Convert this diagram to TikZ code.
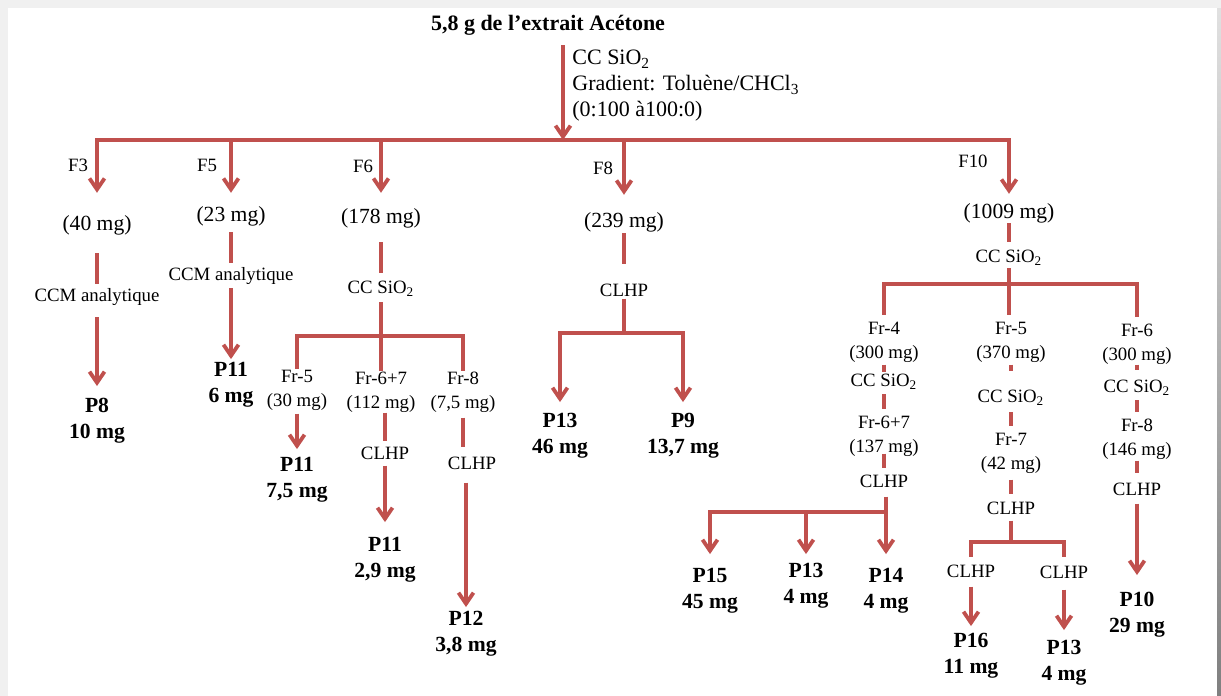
\documentclass[tikz,border=0pt]{standalone}
\usepackage{fontspec}
\setmainfont{Liberation Serif}
\usetikzlibrary{arrows.meta}
\definecolor{flow}{HTML}{C0504D}
\begin{document}
\begin{tikzpicture}[x=0.5pt,y=-0.5pt,
  ln/.style={draw=flow,line width=1.9pt},
  arr/.style={ln,-{Straight Barb[length=5.5pt,width=7.5pt]}},
  big/.style={inner sep=0pt,font=\fontsize{10.8}{13}\selectfont,align=center},
  sm/.style={inner sep=0pt,font=\fontsize{9.4}{12}\selectfont,align=center},
  prod/.style={inner sep=0pt,font=\fontsize{10.8}{13}\selectfont\bfseries,align=center},
]
\useasboundingbox (0,0) rectangle (1221,696);
% page frame
\fill[black!6] (0,0) rectangle (1221,696);
\fill[white] (8,8) rectangle (1217,696);
\shade[top color=black!12,bottom color=black!50] (1217,8) rectangle (1221,696);

% starting extract
\node[prod,font=\fontsize{11}{13}\selectfont\bfseries] (t) at (548,25) {5,8 g de l’extrait Acétone};
\node[anchor=west,align=left,inner sep=0pt,font=\fontsize{11}{13}\selectfont] (cc0) at (572,86)
  {CC SiO\textsubscript{2}\\Gradient: Toluène/CHCl\textsubscript{3}\\(0:100 à100:0)};

% fractions of the first column
\node[sm] (l3) at (78,165) {F3};
\node[sm] (l5) at (207,165) {F5};
\node[sm] (l6) at (363,166) {F6};
\node[sm] (l8) at (603,168) {F8};
\node[sm] (l10) at (973,161) {F10};
\node[big] (n40) at (97,225) {(40 mg)};
\node[big] (n23) at (231,216) {(23 mg)};
\node[big] (n178) at (381,218) {(178 mg)};
\node[big] (n239) at (624,222) {(239 mg)};
\node[big] (n1009) at (1009,213) {(1009 mg)};

% F3
\node[sm] (ccm3) at (97,297) {CCM analytique};
\node[prod] (p8) at (97,421) {P8\\10 mg};
% F5
\node[sm] (ccm5) at (231,276) {CCM analytique};
\node[prod] (p11a) at (231,385) {P11\\6 mg};
% F6
\node[sm] (cc6) at (381,289) {CC SiO\textsubscript{2}};
\node[sm] (fr5) at (297,390) {Fr-5\\(30 mg)};
\node[sm] (fr67) at (381,392) {Fr-6+7\\(112 mg)};
\node[sm] (fr8) at (463,392) {Fr-8\\(7,5 mg)};
\node[prod] (p11b) at (297,480) {P11\\7,5 mg};
\node[sm] (clhp67) at (385,453) {CLHP};
\node[prod] (p11c) at (385,560) {P11\\2,9 mg};
\node[sm] (clhp8b) at (472,463) {CLHP};
\node[prod] (p12) at (466,634) {P12\\3,8 mg};
% F8
\node[sm] (clhp8) at (624,290) {CLHP};
\node[prod] (p13a) at (560,436) {P13\\46 mg};
\node[prod] (p9) at (683,436) {P9\\13,7 mg};
% F10
\node[sm] (cc10) at (1009,258) {CC SiO\textsubscript{2}};
\node[sm] (fr4) at (884,342) {Fr-4\\(300 mg)};
\node[sm] (fr5b) at (1011,342) {Fr-5\\(370 mg)};
\node[sm] (fr6) at (1137,344) {Fr-6\\(300 mg)};
\node[sm] (cc4) at (884,382) {CC SiO\textsubscript{2}};
\node[sm] (cc5) at (1011,398) {CC SiO\textsubscript{2}};
\node[sm] (cc6b) at (1137,388) {CC SiO\textsubscript{2}};
\node[sm] (fr67b) at (884,436) {Fr-6+7\\(137 mg)};
\node[sm] (fr7) at (1011,453) {Fr-7\\(42 mg)};
\node[sm] (fr8b) at (1137,439) {Fr-8\\(146 mg)};
\node[sm] (clhp4) at (884,481) {CLHP};
\node[sm] (clhp5) at (1011,508) {CLHP};
\node[sm] (clhp6) at (1137,489) {CLHP};
\node[prod] (p15) at (710,591) {P15\\45 mg};
\node[prod] (p13b) at (806,586) {P13\\4 mg};
\node[prod] (p14) at (886,591) {P14\\4 mg};
\node[sm] (clhpl) at (971,571) {CLHP};
\node[sm] (clhpr) at (1064,572) {CLHP};
\node[prod] (p16) at (971,656) {P16\\11 mg};
\node[prod] (p13c) at (1064,663) {P13\\4 mg};
\node[prod] (p10) at (1137,615) {P10\\29 mg};

% first separation
\coordinate (bar) at (563,140);
\draw[arr,shorten <=5pt] (bar |- t.south) -- (bar);
\draw[arr,shorten >=11pt] (bar) -| (n40);
\draw[arr,shorten >=4.5pt] (bar) -| (n1009);
\draw[arr,shorten >=6.5pt] (n23 |- bar) -- (n23);
\draw[arr,shorten >=7.5pt] (n178 |- bar) -- (n178);
\draw[arr,shorten >=8.5pt] (n239 |- bar) -- (n239);

% F3 and F5
\draw[ln,shorten <=9pt,shorten >=2.25pt] (n40) -- (ccm3);
\draw[arr,shorten <=5.75pt,shorten >=6pt] (ccm3) -- (p8);
\draw[ln,shorten <=3pt,shorten >=2.25pt] (n23) -- (ccm5);
\draw[arr,shorten <=1.75pt,shorten >=1.5pt] (ccm5) -- (p11a);

% F6
\draw[ln,shorten <=7pt,shorten >=4.25pt] (n178) -- (cc6);
\coordinate (j6) at (381,336);
\draw[ln,shorten <=2.75pt] (cc6) -- (j6);
\draw[ln] (j6) -| (fr5);
\draw[ln] (j6) -- (fr67);
\draw[ln] (j6) -| (fr8);
\draw[arr,shorten <=1.5pt,shorten >=4pt] (fr5) -- (p11b);
\draw[ln,shorten >=2.5pt] (clhp67 |- fr67.south) -- (clhp67);
\draw[arr,shorten <=3pt,shorten >=7.5pt] (clhp67) -- (p11c);
\draw[ln,shorten <=2.5pt,shorten >=4.5pt] (fr8) -- (fr8 |- clhp8b.north);
\draw[arr,shorten <=6.5pt,shorten >=2pt] (p12 |- clhp8b.south) -- (p12);

% F8
\draw[ln,shorten <=0.5pt,shorten >=9.5pt] (n239) -- (clhp8);
\coordinate (j8) at (624,333);
\draw[ln,shorten <=1pt] (clhp8) -- (j8);
\draw[arr,shorten >=5.5pt] (j8) -| (p13a);
\draw[arr,shorten >=5.5pt] (j8) -| (p9);

% F10
\draw[ln,shorten >=4.25pt] (n1009) -- (cc10);
\coordinate (j10) at (1009,284);
\draw[ln,shorten <=1.25pt] (cc10) -- (j10);
\draw[ln,shorten >=3pt] (j10) -| (fr4);
\draw[ln,shorten >=3pt] (j10) -- (j10 |- fr5b.north);
\draw[ln,shorten >=3pt] (j10) -| (fr6);

% Fr-4
\draw[ln,shorten <=1pt,shorten >=1pt] (fr4) -- (cc4);
\draw[ln,shorten <=2.25pt,shorten >=3pt] (cc4) -- (fr67b);
\draw[ln,shorten <=-1.5pt,shorten >=3pt] (fr67b) -- (clhp4);
\coordinate (j4) at (886,512);
\draw[ln,shorten <=4.5pt] (j4 |- clhp4.south) -- (j4);
\draw[arr,shorten >=7pt] (j4) -- (p14);
\draw[arr,shorten >=7pt] (j4) -| (p15);
\draw[arr,shorten >=4.5pt] (p13b |- j4) -- (p13b);

% Fr-5
\draw[ln,shorten <=1pt,shorten >=9.75pt] (fr5b) -- (cc5);
\draw[ln,shorten <=3.25pt,shorten >=3pt] (cc5) -- (fr7);
\draw[ln,shorten <=3pt,shorten >=3.5pt] (fr7) -- (clhp5);
\coordinate (j5) at (1011,542);
\draw[ln,shorten <=3pt] (clhp5) -- (j5);
\draw[ln,shorten >=3.5pt] (j5) -| (clhpl);
\draw[ln,shorten >=4pt] (j5) -| (clhpr);
\draw[arr,shorten <=4.5pt,shorten >=3.5pt] (clhpl) -- (p16);
\draw[arr,shorten <=5.5pt,shorten >=5pt] (clhpr) -- (p13c);

% Fr-6
\draw[ln,shorten >=5pt] (fr6) -- (cc6b);
\draw[ln,shorten <=2.25pt,shorten >=3pt] (cc6b) -- (fr8b);
\draw[ln,shorten <=0.5pt,shorten >=4.5pt] (fr8b) -- (clhp6);
\draw[arr,shorten <=4pt,shorten >=8.5pt] (clhp6) -- (p10);
\end{tikzpicture}
\end{document}
